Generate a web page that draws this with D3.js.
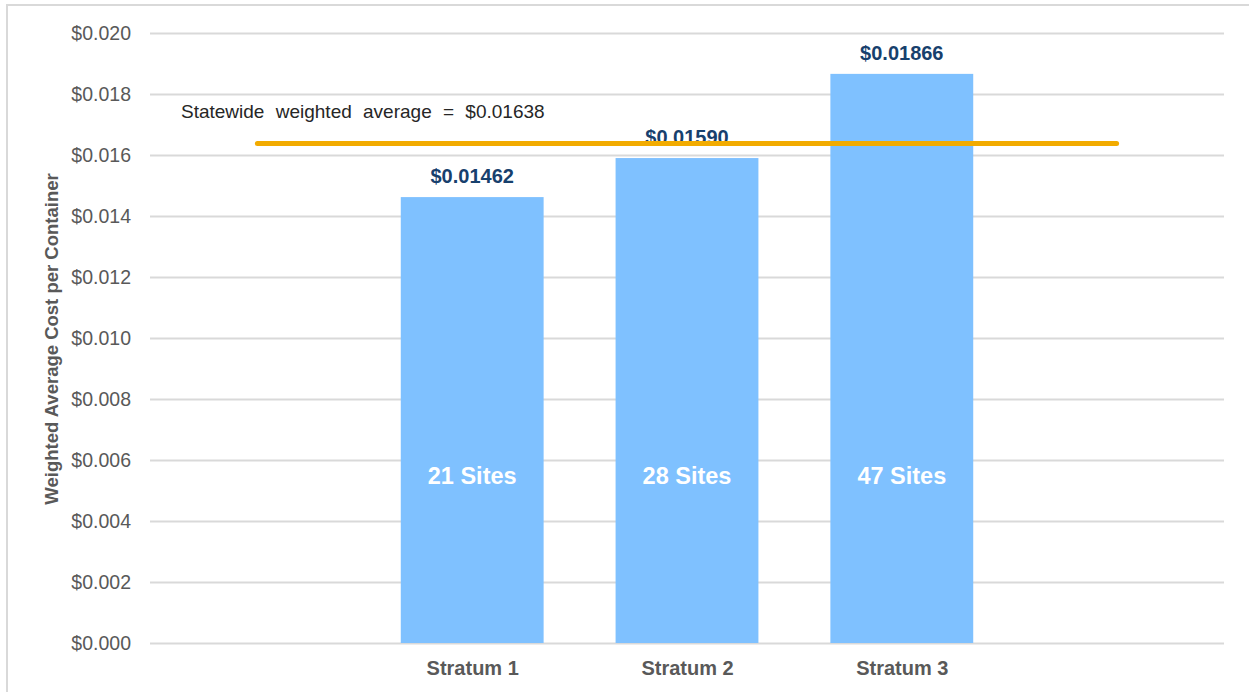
<!DOCTYPE html>
<html>
<head>
<meta charset="utf-8">
<script src="https://cdn.jsdelivr.net/npm/d3@7"></script>
<style>
  body { margin: 0; background: #fff; }
  svg text { font-family: "Liberation Sans", Arial, sans-serif; }
</style>
</head>
<body>
<div id="container"></div>
<script>
// chart data
var categories = ["", "Stratum 1", "Stratum 2", "Stratum 3", " "];
var costs = [null, 0.01462, 0.01590, 0.01866, null];
var siteLabels = [null, "21 Sites", "28 Sites", "47 Sites", null];
var statewideAvg = 0.01638;
var yTicks = [0, 0.002, 0.004, 0.006, 0.008, 0.010, 0.012, 0.014, 0.016, 0.018, 0.020];

var width = 1249, height = 692;
var margin = {left: 150, right: 25, top: 33, bottom: 49};

var svg = d3.select("#container").append("svg")
  .attr("width", width).attr("height", height);

// outer chart border
svg.append("rect")
  .attr("x", 7).attr("y", 5)
  .attr("width", width + 10).attr("height", height + 10)
  .attr("fill", "none").attr("stroke", "#d9d9d9").attr("stroke-width", 2);

var xScale = d3.scaleBand().domain(categories)
  .range([margin.left, width - margin.right])
  .paddingInner(0.335).paddingOuter(0.1675);
var xCenter = d3.scalePoint().domain(categories)
  .range([margin.left, width - margin.right]).padding(0.5);
var yScale = d3.scaleLinear().domain([0, 0.020])
  .range([height - margin.bottom, margin.top]);

// gridlines + y labels
var yAxis = d3.axisLeft(yScale).tickValues(yTicks)
  .tickSize(-(width - margin.left - margin.right))
  .tickPadding(19)
  .tickFormat(function(d) { return "$" + d3.format(".3f")(d); });
var gy = svg.append("g").attr("transform", "translate(" + margin.left + ",0)").call(yAxis);
gy.select(".domain").remove();
gy.selectAll(".tick line").attr("stroke", "#d9d9d9").attr("stroke-width", 2);
gy.selectAll(".tick text").attr("fill", "#595959").style("font-size", "19.5px");

// x labels
var xAxis = d3.axisBottom(xCenter).tickSize(0).tickPadding(18);
var gx = svg.append("g").attr("transform", "translate(0," + (height - margin.bottom) + ")").call(xAxis);
gx.select(".domain").remove();
gx.selectAll(".tick text").attr("fill", "#595959")
  .style("font-size", "20px").style("font-weight", "bold");

// y title
svg.append("text")
  .attr("transform", "translate(58," + 339 + ") rotate(-90)")
  .attr("text-anchor", "middle")
  .attr("fill", "#595959")
  .style("font-size", "18.5px").style("font-weight", "bold")
  .text("Weighted Average Cost per Container");

var barData = categories.map(function(c, i) {
  return {cat: c, value: costs[i], sites: siteLabels[i]};
}).filter(function(d) { return d.value != null; });

svg.selectAll("rect.bar").data(barData).enter().append("rect")
  .attr("class", "bar")
  .attr("x", function(d) { return xScale(d.cat); })
  .attr("width", xScale.bandwidth())
  .attr("y", function(d) { return yScale(d.value); })
  .attr("height", function(d) { return yScale(0) - yScale(d.value); })
  .attr("fill", "#7fc1ff");

// value labels
svg.selectAll("text.val").data(barData).enter().append("text")
  .attr("class", "val")
  .attr("x", function(d) { return xCenter(d.cat); })
  .attr("y", function(d) { return yScale(d.value) - 14; })
  .attr("text-anchor", "middle")
  .attr("fill", "#17406d")
  .style("font-size", "20px").style("font-weight", "bold")
  .text(function(d) { return "$" + d3.format(".5f")(d.value); });

// site labels inside bars
svg.selectAll("text.sites").data(barData).enter().append("text")
  .attr("class", "sites")
  .attr("x", function(d) { return xCenter(d.cat); })
  .attr("y", yScale(0.0052))
  .attr("text-anchor", "middle")
  .attr("fill", "#ffffff")
  .style("font-size", "23.5px").style("font-weight", "bold")
  .text(function(d) { return d.sites; });

// statewide average line
var line = d3.line()
  .x(function(d) { return xCenter(d); })
  .y(function() { return yScale(statewideAvg); });
svg.append("path")
  .datum(categories)
  .attr("d", line)
  .attr("fill", "none")
  .attr("stroke", "#f2ab00")
  .attr("stroke-width", 5)
  .attr("stroke-linecap", "round");

svg.append("text")
  .attr("x", 181).attr("y", 118)
  .attr("fill", "#262626")
  .style("font-size", "19px")
  .style("word-spacing", "6px")
  .text("Statewide weighted average = $" + d3.format(".5f")(statewideAvg));
</script>
</body>
</html>
